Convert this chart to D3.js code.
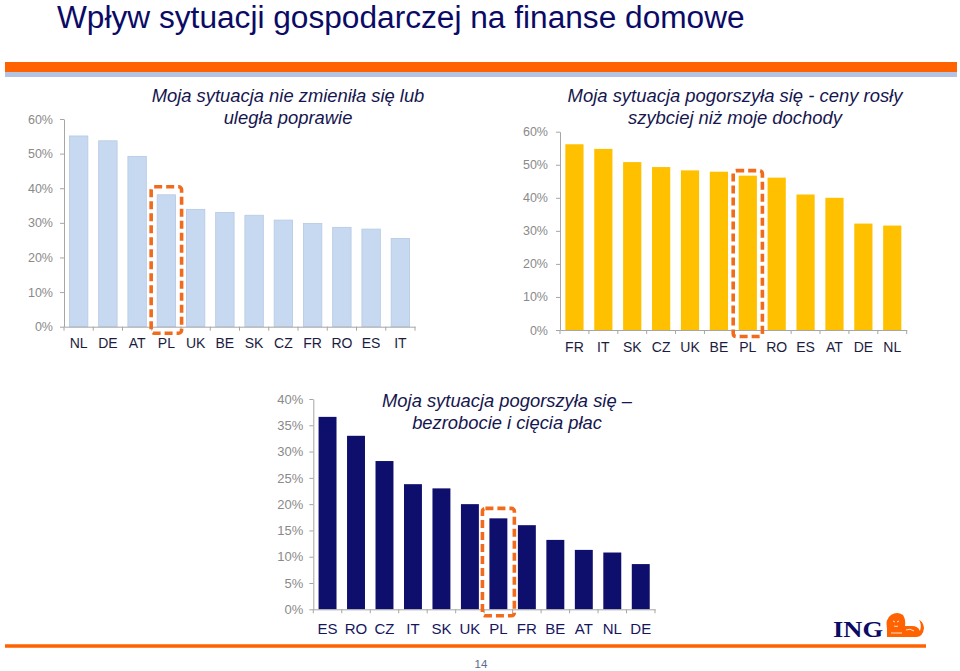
<!DOCTYPE html>
<html><head><meta charset="utf-8">
<script src="https://cdn.jsdelivr.net/npm/d3@7"></script>
<style>
body{margin:0;background:#fff;}
svg{display:block;font-family:"Liberation Sans",Arial,sans-serif;}
</style></head><body>
<svg id="c" width="960" height="671"></svg>
<script>
// ---------- data ----------
const mainTitle = "Wpływ sytuacji gospodarczej na finanse domowe";

const cats1 = ["NL","DE","AT","PL","UK","BE","SK","CZ","FR","RO","ES","IT"];
const vals1 = [55.1,53.7,49.2,38.1,33.9,33.0,32.2,30.8,29.8,28.7,28.2,25.5];
const title1 = ["Moja sytuacja nie zmieniła się lub","uległa poprawie"];

const cats2 = ["FR","IT","SK","CZ","UK","BE","PL","RO","ES","AT","DE","NL"];
const vals2 = [56.2,54.8,50.8,49.3,48.3,47.9,46.7,46.1,41.0,40.0,32.2,31.6];
const title2 = ["Moja sytuacja pogorszyła się - ceny rosły","szybciej niż moje dochody"];

const cats3 = ["ES","RO","CZ","IT","SK","UK","PL","FR","BE","AT","NL","DE"];
const vals3 = [36.6,33.0,28.2,23.8,23.0,20.0,17.3,16.0,13.2,11.3,10.8,8.6];
const title3 = ["Moja sytuacja pogorszyła się –","bezrobocie i cięcia płac"];

const ticksTop = [0,10,20,30,40,50,60];
const ticksBottom = [0,5,10,15,20,25,30,35,40];
const highlightCat = "PL";
const pageNumber = "14";
const logoText = "ING";

// ---------- drawing ----------
const svg = d3.select("#c");
const ORANGE = "#ff6200";

function fitFont(sel, target) {
  const fs = parseFloat(sel.attr("font-size"));
  const len = sel.node().getComputedTextLength();
  const n = fs * target / len;
  sel.attr("font-size", n);
  return n;
}

// header
svg.append("text").attr("x",57).attr("y",27.5).attr("font-size",28)
  .attr("fill","#0b0b66").text(mainTitle).call(s=>fitFont(s,688));
svg.append("rect").attr("x",5).attr("y",62).attr("width",952).attr("height",10).attr("fill",ORANGE);
svg.append("rect").attr("x",5).attr("y",72).attr("width",952).attr("height",5).attr("fill","#b3c3e2");

function chart(o) {
  const x = d3.scaleBand().domain(o.cats).range([o.x0,o.x1]).paddingInner(0.37).paddingOuter(0.185);
  const y = d3.scaleLinear().domain([0,o.max]).range([o.y0,o.yT]);
  const g = svg.append("g");
  const data = o.cats.map((c,i)=>({c, v:o.vals[i]}));

  g.selectAll("rect.bar").data(data).join("rect").attr("class","bar")
    .attr("x",d=>x(d.c)).attr("width",x.bandwidth())
    .attr("y",d=>y(d.v)).attr("height",d=>y(0)-y(d.v))
    .attr("fill",o.fill).attr("stroke",o.stroke||"none").attr("stroke-width",0.8);

  const yg = g.append("g").attr("transform",`translate(${o.x0},0)`)
    .call(d3.axisLeft(y).tickValues(o.ticks).tickFormat(d=>d+"%").tickSize(4).tickSizeOuter(0).tickPadding(o.ypad));
  yg.select(".domain").attr("stroke","#a6a6a6");
  yg.selectAll(".tick line").attr("stroke","#a6a6a6");
  yg.selectAll("text").attr("fill","#8a8a8a").attr("font-size",o.yfs)
    .attr("font-family","Liberation Sans, Arial, sans-serif");

  const xg = g.append("g").attr("transform",`translate(0,${o.y0})`)
    .call(d3.axisBottom(x).tickSize(0).tickSizeOuter(0));
  xg.select(".domain").attr("stroke","#a6a6a6");
  xg.selectAll("text").attr("dy",null).attr("y",o.xlab).attr("fill",o.xcol)
    .attr("font-size",o.xfs).attr("font-family","Liberation Sans, Arial, sans-serif");
  const step = x.step();
  g.selectAll("line.xt").data(d3.range(o.cats.length+1)).join("line")
    .attr("x1",i=>x.range()[0]+i*step).attr("x2",i=>x.range()[0]+i*step)
    .attr("y1",o.y0).attr("y2",o.y0+4).attr("stroke","#a6a6a6");

  // highlight
  const hv = o.vals[o.cats.indexOf(highlightCat)];
  const hx = x(highlightCat);
  g.append("rect").attr("x",hx-o.hpad).attr("width",x.bandwidth()+2*o.hpad)
    .attr("y",y(hv)-o.htop).attr("height",(o.y0+6.5)-(y(hv)-o.htop))
    .attr("rx",3).attr("fill","none").attr("stroke","#f06b1c").attr("stroke-width",3.6)
    .attr("stroke-dasharray","8,4");

  // title
  const t1 = g.append("text").attr("x",o.tx).attr("y",o.ty).attr("text-anchor","middle")
    .attr("font-size",17).attr("font-style","italic").attr("fill","#16164e").text(o.title[0]);
  const fs = fitFont(t1,o.tw);
  g.append("text").attr("x",o.tx).attr("y",o.ty+22).attr("text-anchor","middle")
    .attr("font-size",fs).attr("font-style","italic").attr("fill","#16164e").text(o.title[1]);
}

chart({cats:cats1, vals:vals1, ticks:ticksTop, max:60, x0:64, x1:415, y0:326.7, yT:119,
  fill:"#c6d9f0", stroke:"#b5c9e4", ypad:7, yfs:12.5, xlab:21.6, xcol:"#1c1c40", xfs:14,
  hpad:6, htop:8, title:title1, tx:288, ty:102.3, tw:273});
chart({cats:cats2, vals:vals2, ticks:ticksTop, max:60, x0:560, x1:906.7, y0:330, yT:131.7,
  fill:"#ffc000", ypad:8, yfs:12.5, xlab:21.7, xcol:"#1c1c40", xfs:14,
  hpad:5.5, htop:5, title:title2, tx:735, ty:102.3, tw:335});
chart({cats:cats3, vals:vals3, ticks:ticksBottom, max:40, x0:313.3, x1:655, y0:609.3, yT:399,
  fill:"#0e0e6c", ypad:6, yfs:13, xlab:24.7, xcol:"#16165e", xfs:15,
  hpad:7, htop:10, title:title3, tx:507, ty:406.7, tw:250});

// footer
svg.append("line").attr("x1",5).attr("x2",926).attr("y1",646).attr("y2",646)
  .attr("stroke",ORANGE).attr("stroke-width",3.5);
svg.append("text").attr("x",481).attr("y",667.5).attr("text-anchor","middle")
  .attr("font-size",11.5).attr("fill","#5b6c8c").text(pageNumber);

// ING logo
svg.append("text").attr("x",833).attr("y",637).attr("font-family","Liberation Serif, serif")
  .attr("font-weight","bold").attr("font-size",24).attr("fill","#0b0b66")
  .attr("textLength",50).attr("lengthAdjust","spacingAndGlyphs").text(logoText);
const lion = svg.append("g").attr("fill",ORANGE);
lion.append("path").attr("d","M887,637 L887,629 Q885,619 891,615 Q897,611 903,615 Q906,620 905,626 L912,626 Q918,626 920,631 Q922,624 919,620 Q923,621 924,628 Q923,637 916,637 Z");
lion.append("circle").attr("cx",896).attr("cy",622).attr("r",7.5);
const det = svg.append("g").attr("stroke","#fff").attr("stroke-width",0.8).attr("fill","none");
det.append("path").attr("d","M893,621 L895,622 M899,621 L897,622 M894,626 Q896,627 898,626 M891,633 L902,633 M906,630 Q910,628 914,631");
</script>
</body></html>
